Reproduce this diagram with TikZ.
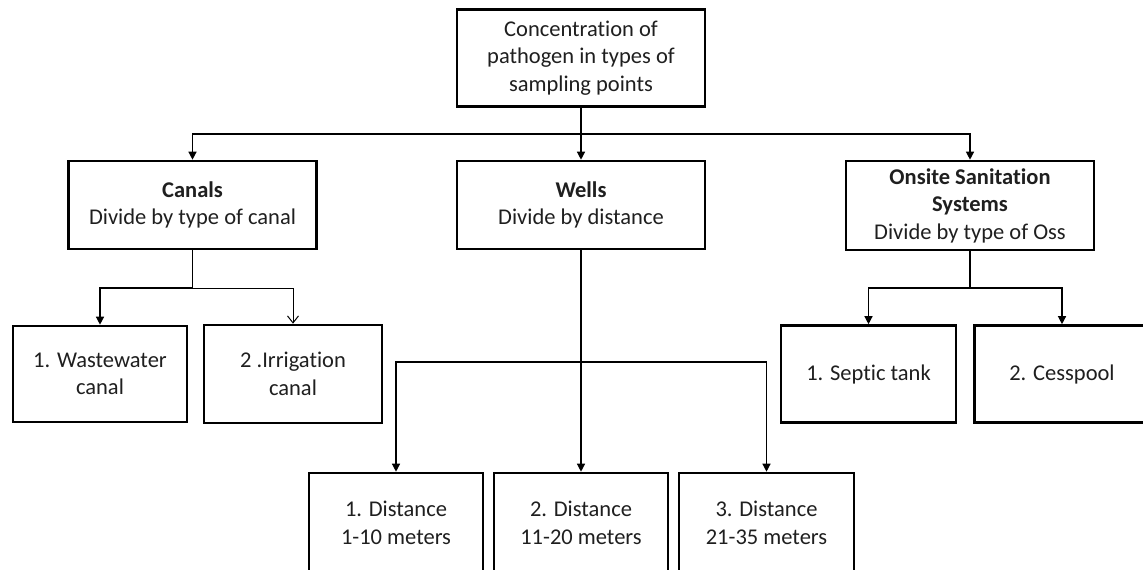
\documentclass[tikz,border=0pt]{standalone}
\usepackage{fontspec}
\setmainfont{Carlito}[Ligatures=NoCommon]
\usetikzlibrary{arrows.meta}
\begin{document}
\begin{tikzpicture}[x=1pt,y=-1pt,
  box/.style={draw, line width=2.6pt, align=center, inner sep=0pt,
    font=\fontsize{22.5}{27.5}\selectfont, text=black!88},
  link/.style={line width=1.3pt},
  arrF/.style={link, -{Triangle[length=8pt,width=8pt]}},
  arrO/.style={line width=1pt, -{Straight Barb[length=7pt,width=11pt,line width=1pt]}}]
\useasboundingbox (0,0) rectangle (1143,570);
\fill[white] (0,0) rectangle (1143,570);

% top level
\node[box, minimum width=248pt, minimum height=97pt] (top) at (581,58)
  {Concentration of\\pathogen in types of\\sampling points};

% sampling point types
\node[box, minimum width=248pt, minimum height=88pt] (canals) at (192.5,205)
  {\textbf{Canals}\\Divide by type of canal};
\node[box, minimum width=248pt, minimum height=88pt] (wells) at (581,205)
  {\textbf{Wells}\\Divide by distance};
\node[box, minimum width=248pt, minimum height=89pt] (oss) at (970,205.5)
  {\textbf{Onsite Sanitation}\\\textbf{Systems}\\Divide by type of Oss};

% canal types
\node[box, minimum width=174pt, minimum height=96pt] (waste) at (100,374)
  {1. Wastewater\\canal};
\node[box, minimum width=178pt, minimum height=98pt] (irr) at (293,374)
  {2 .Irrigation\\canal};

% onsite sanitation types
\node[box, minimum width=175pt, minimum height=97pt] (septic) at (868.5,374)
  {1. Septic tank};
\node[box, minimum width=175pt, minimum height=97pt] (cess) at (1062,374)
  {2. Cesspool};

% well distances
\node[box, minimum width=174pt, minimum height=100pt] (d1) at (396,523)
  {1. Distance\\1-10 meters};
\node[box, minimum width=174pt, minimum height=100pt] (d2) at (581,523)
  {2. Distance\\11-20 meters};
\node[box, minimum width=175pt, minimum height=100pt] (d3) at (766.5,523)
  {3. Distance\\21-35 meters};

% branch points
\coordinate (b1) at (581,134);
\coordinate (b2) at (192.5,288);
\coordinate (b3) at (581,362);
\coordinate (b4) at (970,288);

% connectors
\draw[link] (top) -- (b1);
\draw[arrF] (b1) -| (canals);
\draw[arrF] (top) -- (wells);
\draw[arrF] (b1) -| (oss);

\draw[link] (canals) -- (b2);
\draw[arrF] (b2) -| (waste);
\draw[arrO] (b2) -| (irr);

\draw[arrF] (wells) -- (d2);
\draw[arrF] (b3) -| (d1);
\draw[arrF] (b3) -| (d3);

\draw[link] (oss) -- (b4);
\draw[arrF] (b4) -| (septic);
\draw[arrF] (b4) -| (cess);
\end{tikzpicture}
\end{document}
